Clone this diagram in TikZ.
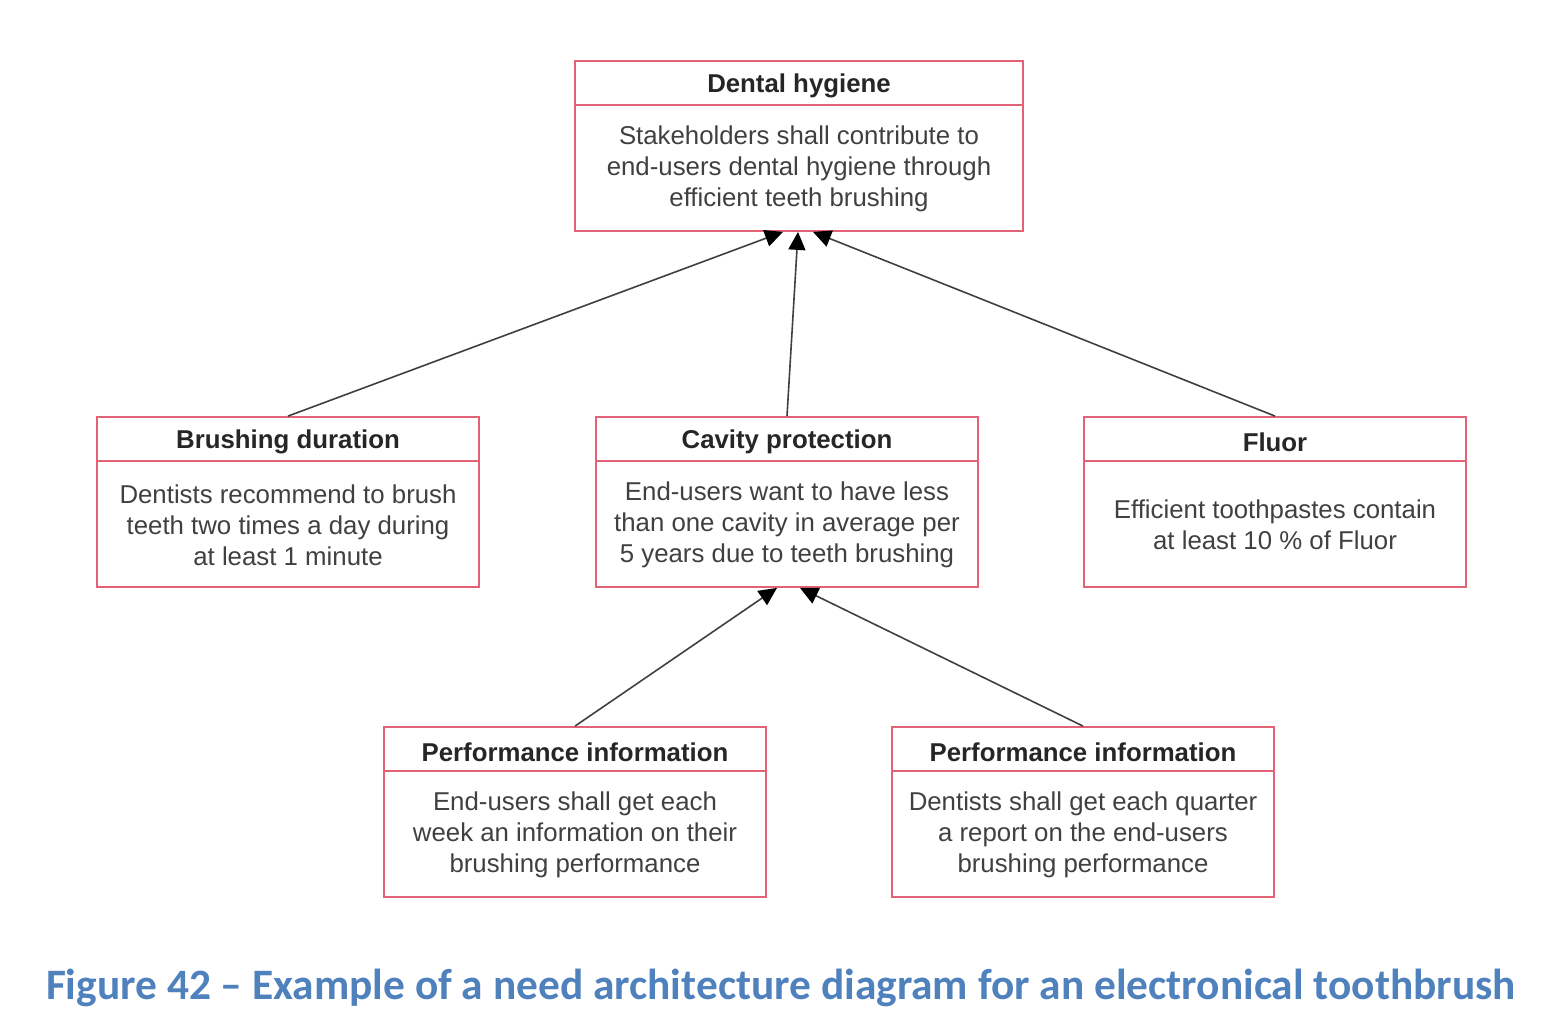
\documentclass[tikz,border=0pt]{standalone}
\usepackage{fontspec}
\setmainfont{Liberation Sans}
\newfontfamily\capfont{Carlito}
\usetikzlibrary{arrows.meta}
\definecolor{boxred}{RGB}{228,98,118}
\definecolor{capblue}{RGB}{79,129,189}
\tikzset{
  needbox/.style={draw=boxred,line width=0.9pt,rectangle,minimum height=85pt,inner sep=0pt},
  needtitle/.style={font=\fontsize{12.9}{15}\selectfont\bfseries,text=black!85},
  needtext/.style={font=\fontsize{12.9}{15.5}\selectfont,text=black!75,align=center},
  refine/.style={draw=black!75,line width=0.8pt,-{Triangle[length=9pt,width=8.5pt,color=black]}}
}
\newcommand{\need}[6]{\node[needbox,minimum width=#4] (#1) at (#2,#3) {};
  \draw[boxred,line width=0.8pt] ([yshift=-22.5pt]#1.north west) -- ([yshift=-22.5pt]#1.north east);
  \node[needtitle] (#1-title) at ([yshift=-13pt]#1.north) {#5};
  \node[needtext] (#1-text) at ([yshift=-11.5pt]#1.center) {#6};}
\newcommand{\refine}[2]{\draw[refine] (#1) -- (#2);}

\begin{document}
\begin{tikzpicture}[x=0.5pt,y=-0.5pt]
    \useasboundingbox (0,0) rectangle (1564,1020);
    \need{hygiene}{799}{146}{224pt}{Dental hygiene}{Stakeholders shall contribute to\\end-users dental hygiene through\\efficient teeth brushing}
    \need{duration}{288}{502}{191pt}{Brushing duration}{Dentists recommend to brush\\teeth two times a day during\\at least 1 minute}
    \need{cavity}{787}{502}{191pt}{Cavity protection}{End-users want to have less\\than one cavity in average per\\5 years due to teeth brushing}
    \need{fluor}{1275}{502}{191pt}{Fluor}{Efficient toothpastes contain\\at least 10 \% of Fluor}
    \need{perfuser}{575}{812}{191pt}{Performance information}{End-users shall get each\\week an information on their\\brushing performance}
    \need{perfdentist}{1083}{812}{191pt}{Performance information}{Dentists shall get each quarter\\a report on the end-users\\brushing performance}
    \refine{duration.north}{[xshift=-8pt]hygiene.south}
    \refine{cavity.north}{[xshift=-0.5pt]hygiene.south}
    \refine{fluor.north}{[xshift=7pt]hygiene.south}
    \refine{perfuser.north}{[xshift=-5pt]cavity.south}
    \refine{perfdentist.north}{[xshift=6.5pt]cavity.south}
    \node[font=\capfont\fontsize{21.7}{26}\selectfont\bfseries,text=capblue] (caption) at (781,988) {Figure 42 – Example of a need architecture diagram for an electronical toothbrush};
\end{tikzpicture}
\end{document}
